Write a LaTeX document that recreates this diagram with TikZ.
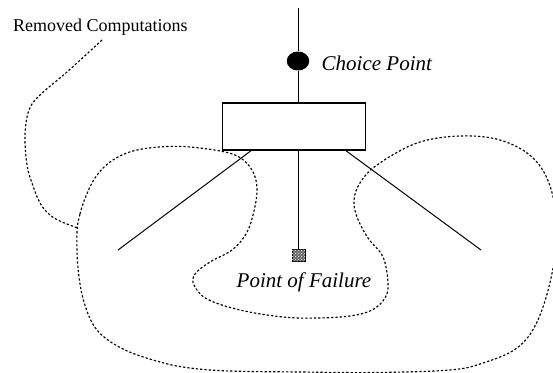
\documentclass[tikz,border=0pt]{standalone}
\usepackage{fontspec}
\setmainfont{Liberation Serif}
\usetikzlibrary{shapes.geometric,patterns,calc}
\begin{document}
\begin{tikzpicture}[x=1pt,y=-1pt,
  link/.style={line width=1pt},
  region/.style={line width=1.15pt, dash pattern=on 2.3pt off 2pt},
  choice/.style={ellipse, fill=black, minimum width=22.5pt, minimum height=19pt, inner sep=0pt},
  cutbox/.style={draw, line width=1.1pt, minimum width=143pt, minimum height=47pt, inner sep=0pt},
  failbox/.style={draw=black, line width=1pt, fill=black!60,
    postaction={pattern=crosshatch dots, pattern color=white},
    minimum width=13pt, minimum height=11.5pt, inner sep=0pt},
  lab/.style={font=\fontsize{21}{21}\selectfont\itshape, inner sep=0pt, anchor=base west},
  note/.style={font=\fontsize{18}{18}\selectfont, inner sep=0pt, anchor=base west}]
\useasboundingbox (0,0) rectangle (553,372);
\clip (0,0) rectangle (553,372);

% choice point, the cut box and its branches
\coordinate (top) at (298,8);
\node[choice] (cp) at (298,61) {};
\node[cutbox] (box) at (294.3,126.5) {};
\coordinate (bl) at ($(box.south west)+(29,0)$);
\coordinate (br) at ($(box.south west)+(123.5,0)$);
\coordinate (leftend) at (118,250);
\coordinate (rightend) at (481,250);
\node[failbox] (fail) at (298.5,255.5) {};

\draw[link] (top) -- (cp);
\draw[link] (cp) -- (cp |- box.north);
\draw[link] (bl) -- (leftend);
\draw[link] (br) -- (rightend);
\draw[link] (fail.north |- box.south) -- (fail.north);

% labels
\node[lab] (cplabel) at (321.5,70) {Choice Point};
\node[lab] (pflabel) at (236.5,287.5) {Point of Failure};
\node[note] (rclabel) at (13,31.5) {Removed Computations};

% pointer from the caption to the removed region
\draw[region] plot[smooth, tension=0.6] coordinates {
  (102,40) (67,72) (40,95) (29,110) (25,135) (27,165) (32,183)
  (40,203) (50,215) (62,222) (78,228)};

% outline of the removed computations
\draw[region] plot[smooth cycle, tension=0.6] coordinates {
  (77,232) (80,214) (86,196) (95,178) (110,162) (133,151) (167,146.5)
  (200,148) (235,155) (252,170) (257,190) (253,215) (246,234) (232,250)
  (210,262) (195,274) (194,285) (207,299) (240,310) (283,317) (317,318)
  (350,316) (372,310) (385,298) (388,283) (383,257) (368,238) (357,217)
  (354,200) (360,183) (377,165) (417,143) (460,136) (500,140) (532,157)
  (550,186) (557,230) (551,278) (537,322) (517,348) (483,363) (450,370)
  (375,372.5) (300,372) (230,371) (190,368) (160,362) (123,349) (97,330)
  (84,302) (78,268)};
\end{tikzpicture}
\end{document}
